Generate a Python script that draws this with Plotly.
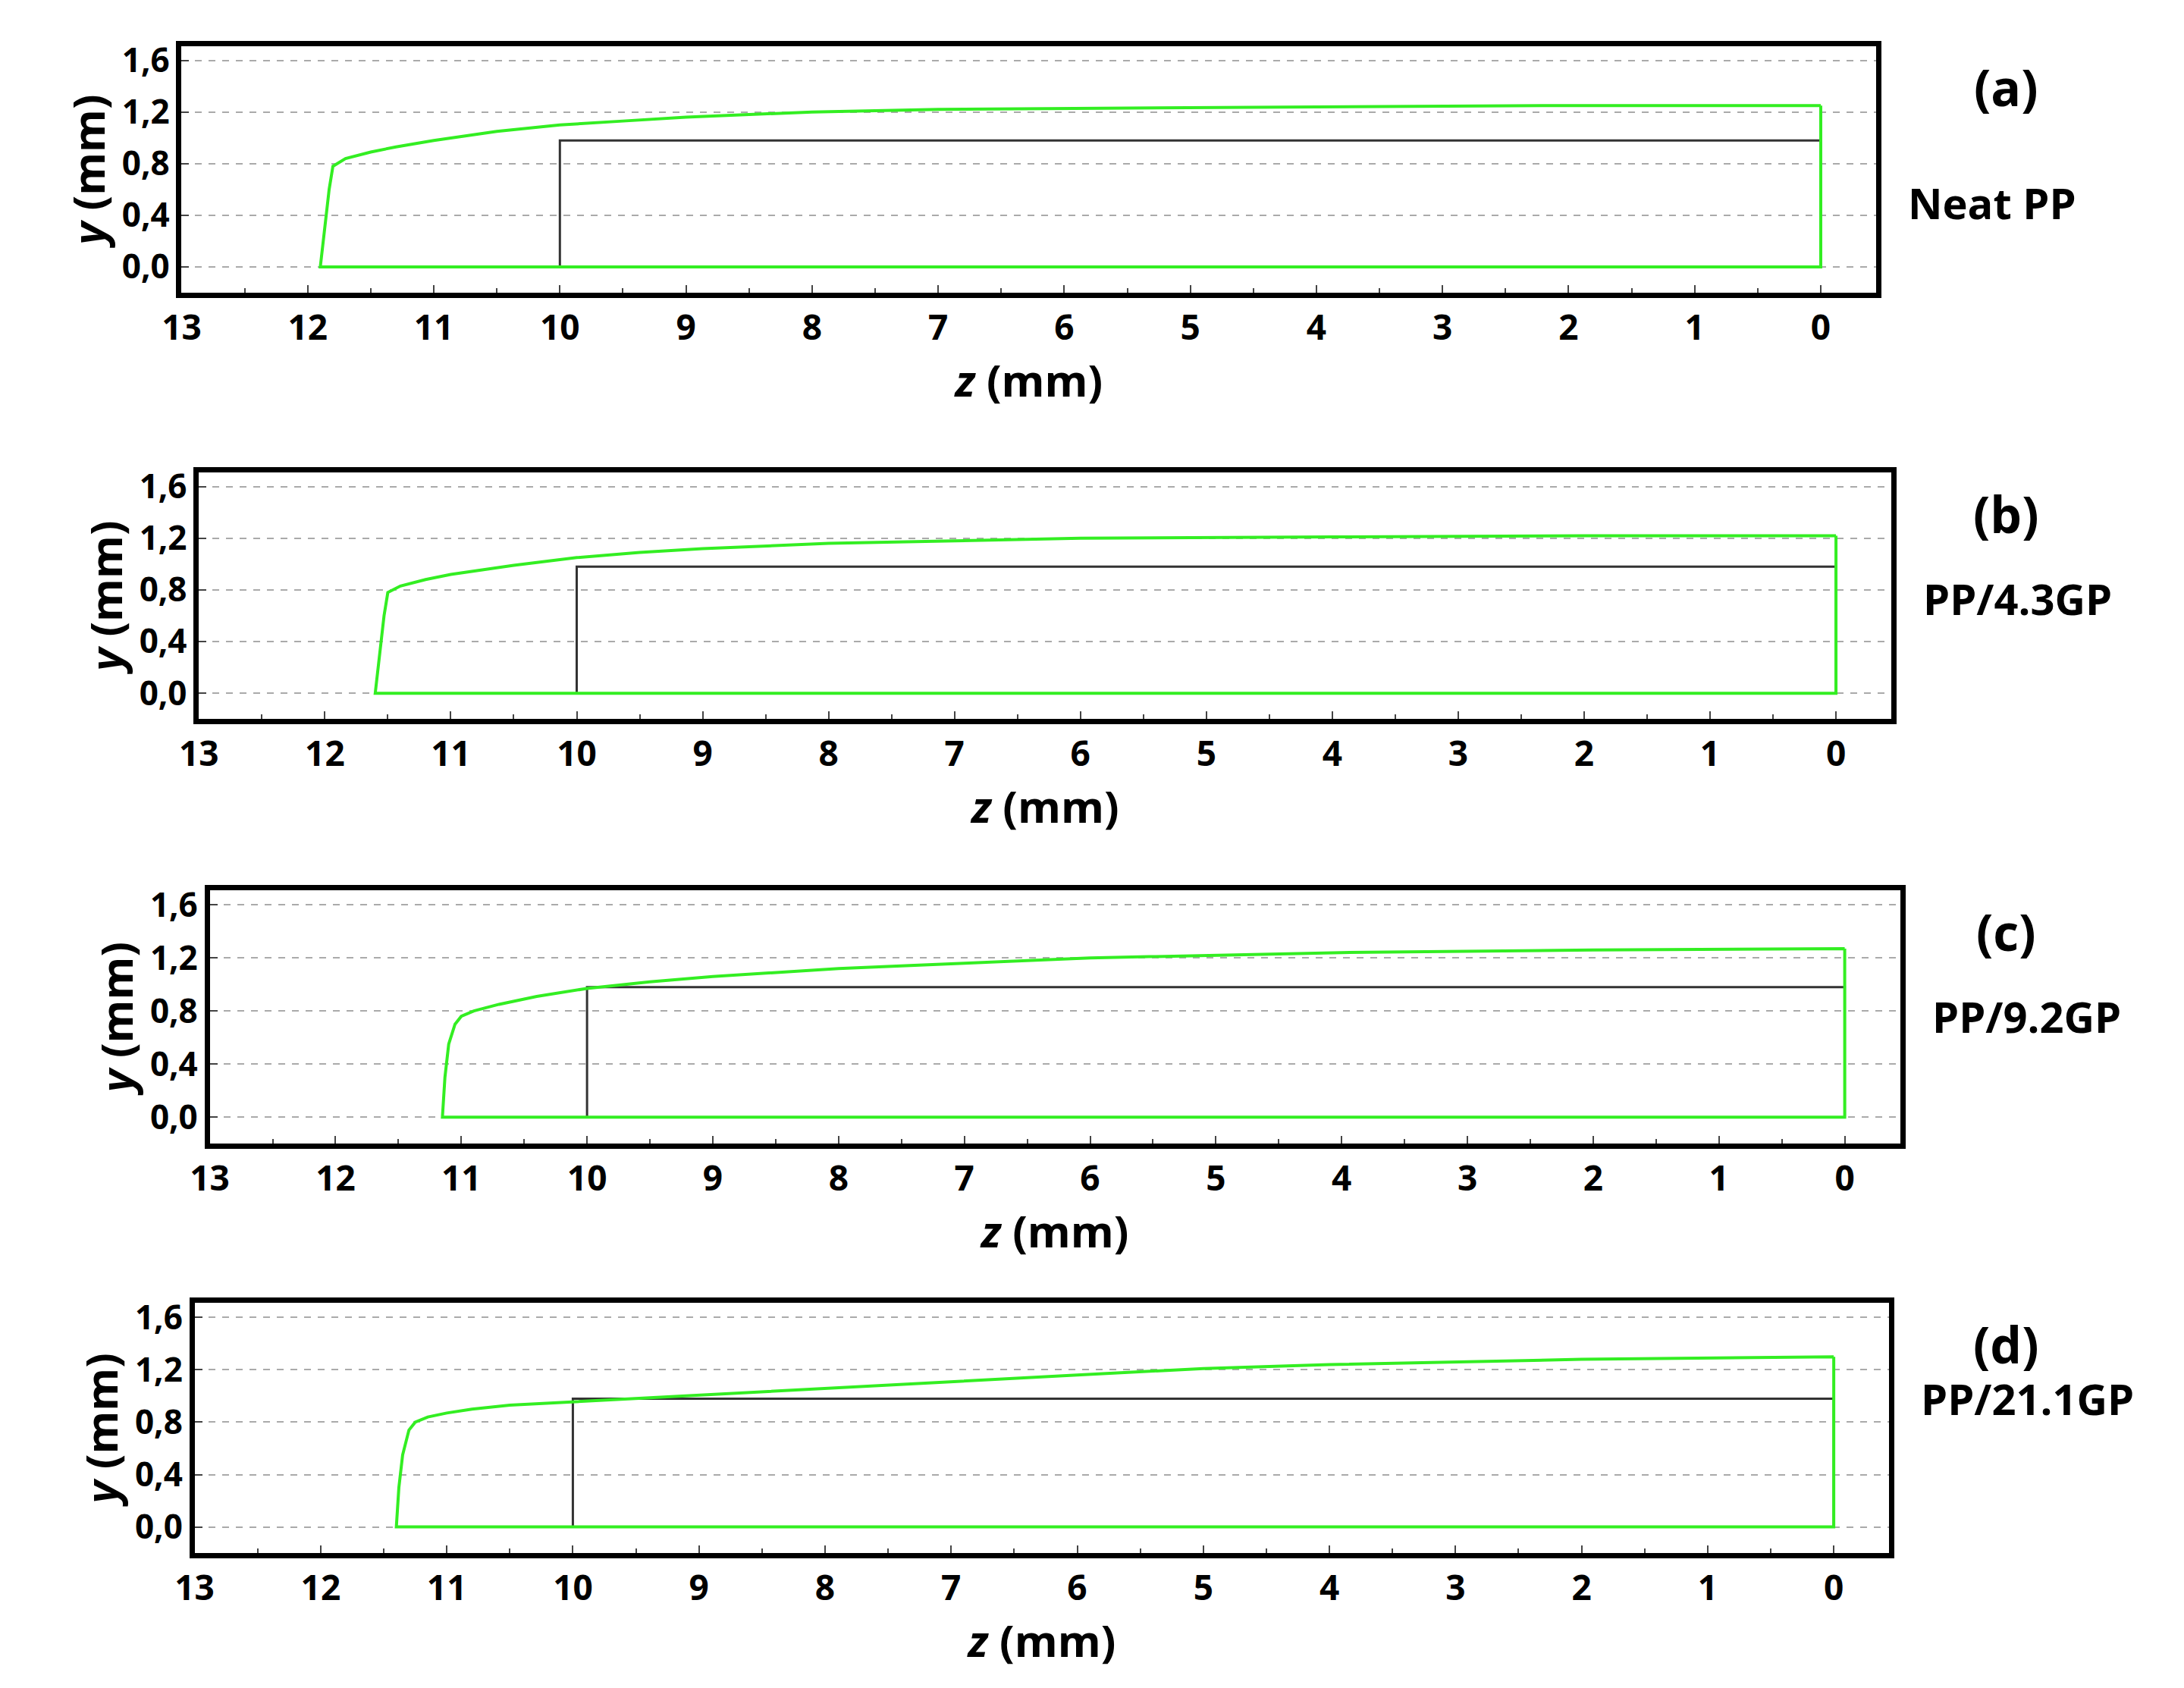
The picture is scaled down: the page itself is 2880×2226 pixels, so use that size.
import plotly.graph_objects as go

labels = ["(a)", "(b)", "(c)", "(d)"]
names = ["Neat PP", "PP/4.3GP", "PP/9.2GP", "PP/21.1GP"]
# free-surface (green) profiles: z, y
green_z = [
    [0, 2, 4, 6, 7, 8, 9, 9.5, 10, 10.5, 11, 11.3, 11.5, 11.7, 11.8, 11.83, 11.86, 11.9],
    [0, 2, 4, 6, 7, 8, 9, 9.5, 10, 10.5, 11, 11.2, 11.4, 11.5, 11.53, 11.56, 11.6],
    [0, 2, 4, 5, 6, 7, 8, 9, 9.5, 10, 10.4, 10.7, 10.9, 11.0, 11.05, 11.1, 11.13, 11.15],
    [0, 2, 4, 5, 6, 7, 8, 9, 10, 10.5, 10.8, 11.0, 11.15, 11.25, 11.3, 11.35, 11.38, 11.4],
]
green_y = [
    [1.25, 1.25, 1.24, 1.23, 1.22, 1.20, 1.16, 1.13, 1.10, 1.05, 0.98, 0.93, 0.89, 0.84, 0.78, 0.60, 0.35, 0.0],
    [1.22, 1.22, 1.21, 1.20, 1.18, 1.16, 1.12, 1.09, 1.05, 0.99, 0.92, 0.88, 0.83, 0.78, 0.60, 0.35, 0.0],
    [1.27, 1.26, 1.24, 1.22, 1.20, 1.16, 1.12, 1.06, 1.02, 0.97, 0.91, 0.85, 0.80, 0.76, 0.70, 0.55, 0.30, 0.0],
    [1.30, 1.28, 1.24, 1.21, 1.16, 1.11, 1.06, 1.01, 0.96, 0.93, 0.90, 0.87, 0.84, 0.80, 0.74, 0.55, 0.30, 0.0],
]
# die/channel (black) outline
black_z = [0, 0, 10, 10]
black_y = [0, 0.98, 0.98, 0]
xticks = list(range(0, 14))
yticks = [0.0, 0.4, 0.8, 1.2, 1.6]
ytext = ["0,0", "0,4", "0,8", "1,2", "1,6"]

xdom = [[0.072, 0.855], [0.080, 0.862], [0.085, 0.866], [0.078, 0.861]]
ydom = [[0.835, 0.982], [0.581, 0.728], [0.328, 0.479], [0.084, 0.233]]

fig = go.Figure()
W, H = 2880, 2226
for i in range(4):
    sx = "" if i == 0 else str(i + 1)
    gz = green_z[i] + [green_z[i][-1], 0, 0]
    gy = green_y[i] + [0, 0, green_y[i][0]]
    fig.add_trace(go.Scatter(x=black_z, y=black_y, mode="lines", line=dict(color="#333", width=3),
                             xaxis="x" + sx, yaxis="y" + sx, showlegend=False))
    fig.add_trace(go.Scatter(x=gz, y=gy, mode="lines", line=dict(color="#33ee22", width=4),
                             xaxis="x" + sx, yaxis="y" + sx, showlegend=False))
    ax = dict(domain=xdom[i], anchor="y" + sx, range=[13, -0.44], tickvals=xticks,
              ticktext=["<b>%d</b>" % t for t in xticks],
              ticks="inside", ticklen=10, tickwidth=2, showgrid=False, zeroline=False,
              showline=True, linewidth=7, linecolor="black", mirror=True,
              minor=dict(ticks="inside", ticklen=6, dtick=0.5, tickcolor="#444"),
              tickfont=dict(size=46, family="Open Sans", color="black"),
              title=dict(text="<b><i>z</i> (mm)</b>", font=dict(size=58, family="Open Sans", color="black"), standoff=8))
    ay = dict(domain=ydom[i], anchor="x" + sx, range=[-0.2, 1.71], tickvals=yticks,
              ticktext=["<b>%s</b>" % t for t in ytext],
              ticks="inside", ticklen=10, tickwidth=2, showgrid=True, gridcolor="#aaa",
              griddash="dash", gridwidth=2, zeroline=False,
              showline=True, linewidth=7, linecolor="black", mirror=True,
              tickfont=dict(size=44, family="Open Sans", color="black"),
              title=dict(text="<b><i>y</i> (mm)</b>", font=dict(size=58, family="Open Sans", color="black"), standoff=6))
    fig.layout["xaxis" + sx] = ax
    fig.layout["yaxis" + sx] = ay
    top = ydom[i][1]
    fig.add_annotation(x=0.915, y=top - 0.003, xref="paper", yref="paper", text="<b>%s</b>" % labels[i],
                       showarrow=False, font=dict(size=66, family="Open Sans", color="black"),
                       xanchor="center", yanchor="top")
    fig.add_annotation(x=xdom[i][1] + 0.014, y=top - 0.075, xref="paper", yref="paper",
                       text="<b>%s</b>" % names[i], showarrow=False,
                       font=dict(size=56, family="Open Sans", color="black"), xanchor="left")

fig.update_layout(width=W, height=H, margin=dict(l=0, r=0, t=0, b=0),
                  plot_bgcolor="white", paper_bgcolor="white")
fig.write_html("out.html")
